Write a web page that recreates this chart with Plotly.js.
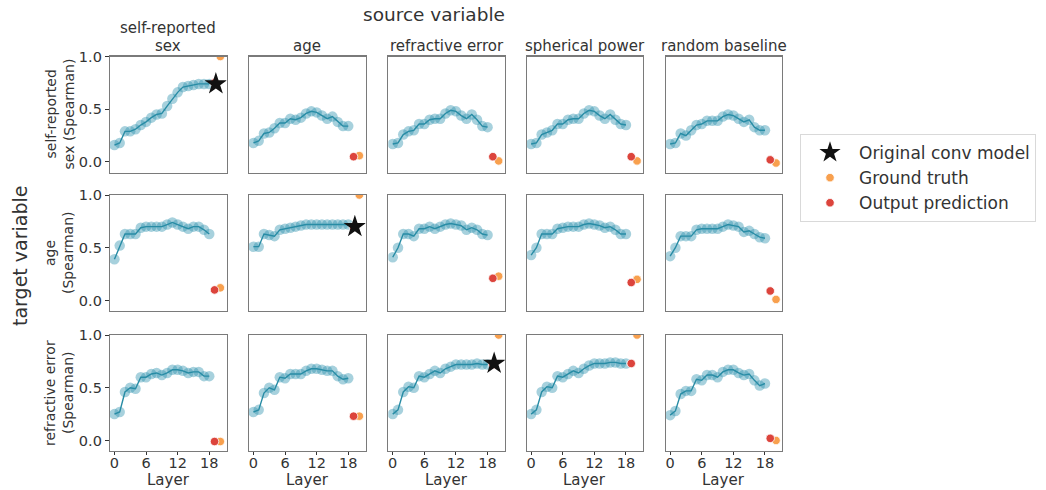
<!DOCTYPE html>
<html><head><meta charset="utf-8">
<script src="https://cdn.plot.ly/plotly-3.0.1.min.js"></script>
<style>html,body{margin:0;padding:0;background:#fff}#chart{width:1046px;height:490px}</style>
</head><body><div id="chart"></div>
<script>
// ---------------- data ----------------
const layers = [0,1,2,3,4,5,6,7,8,9,10,11,12,13,14,15,16,17,18];
const sourceLabels = ['self-reported<br>sex','age','refractive error','spherical power','random baseline'];
const targetLabels = ['self-reported<br>sex (Spearman)','age<br>(Spearman)','refractive error<br>(Spearman)'];
const xAxisLabel = 'Layer';
const xTickVals = [0,6,12,18];
const yTickVals = [0,0.5,1.0];
const yTickText = ['0.0','0.5','1.0'];

// target: self-reported sex
const sexFromSex  = [0.16,0.18,0.29,0.29,0.31,0.35,0.38,0.42,0.45,0.46,0.53,0.60,0.66,0.71,0.72,0.73,0.74,0.74,0.74];
const sexFromAge  = [0.18,0.20,0.27,0.28,0.32,0.37,0.37,0.41,0.40,0.42,0.46,0.48,0.47,0.44,0.41,0.43,0.38,0.34,0.34];
const sexFromRefr = [0.17,0.18,0.26,0.29,0.30,0.36,0.36,0.40,0.41,0.41,0.46,0.49,0.48,0.44,0.41,0.45,0.40,0.34,0.33];
const sexFromSph  = [0.17,0.18,0.26,0.28,0.30,0.36,0.36,0.40,0.41,0.41,0.46,0.49,0.48,0.44,0.41,0.45,0.40,0.36,0.35];
const sexFromRand = [0.17,0.18,0.27,0.25,0.30,0.35,0.36,0.39,0.39,0.39,0.43,0.45,0.44,0.41,0.38,0.40,0.33,0.30,0.30];
// target: age
const ageFromSex  = [0.39,0.52,0.63,0.63,0.63,0.69,0.70,0.70,0.70,0.70,0.72,0.74,0.72,0.70,0.68,0.70,0.70,0.67,0.63];
const ageFromAge  = [0.51,0.51,0.63,0.62,0.61,0.67,0.68,0.69,0.70,0.71,0.72,0.72,0.72,0.72,0.72,0.72,0.72,0.72,0.72];
const ageFromRefr = [0.41,0.50,0.63,0.63,0.61,0.68,0.68,0.70,0.68,0.70,0.72,0.73,0.72,0.71,0.67,0.69,0.67,0.63,0.62];
const ageFromSph  = [0.43,0.50,0.63,0.63,0.63,0.68,0.69,0.70,0.70,0.70,0.72,0.73,0.72,0.71,0.69,0.70,0.67,0.63,0.63];
const ageFromRand = [0.42,0.50,0.61,0.61,0.61,0.67,0.68,0.68,0.68,0.68,0.70,0.72,0.71,0.70,0.65,0.66,0.63,0.60,0.59];
// target: refractive error
const refFromSex  = [0.25,0.27,0.46,0.50,0.49,0.60,0.60,0.63,0.64,0.62,0.64,0.67,0.67,0.66,0.64,0.65,0.65,0.61,0.61];
const refFromAge  = [0.27,0.29,0.45,0.50,0.48,0.60,0.59,0.63,0.63,0.63,0.66,0.68,0.68,0.67,0.66,0.66,0.61,0.58,0.59];
const refFromRefr = [0.25,0.29,0.46,0.51,0.50,0.61,0.60,0.63,0.66,0.64,0.68,0.70,0.72,0.72,0.72,0.72,0.73,0.72,0.72];
const refFromSph  = [0.25,0.29,0.46,0.51,0.50,0.61,0.60,0.63,0.66,0.64,0.68,0.71,0.73,0.73,0.73,0.74,0.74,0.73,0.73];
const refFromRand = [0.24,0.28,0.44,0.47,0.47,0.58,0.57,0.62,0.62,0.60,0.65,0.67,0.67,0.64,0.62,0.63,0.57,0.52,0.54];

// output prediction / ground truth per source column
const predSex   = [0.75,0.05,0.05,0.05,0.02];
const truthSex  = [1.00,0.06,0.01,0.01,-0.01];
const predAge   = [0.10,0.70,0.21,0.17,0.09];
const truthAge  = [0.12,1.00,0.23,0.20,0.01];
const predRef   = [-0.01,0.23,0.72,0.73,0.02];
const truthRef  = [-0.01,0.23,1.00,1.00,0.00];
// original conv model (diagonal panels)
const starVals  = [0.74,0.70,0.73];
const predLayer  = 19;
const truthLayer = 20.1;
const starLayer  = 19.25;

const curves = [
  [sexFromSex, sexFromAge, sexFromRefr, sexFromSph, sexFromRand],
  [ageFromSex, ageFromAge, ageFromRefr, ageFromSph, ageFromRand],
  [refFromSex, refFromAge, refFromRefr, refFromSph, refFromRand]
];
const preds  = [predSex, predAge, predRef];
const truths = [truthSex, truthAge, truthRef];

// ---------------- layout geometry ----------------
const W = 1046, H = 490;
const colLeft = [110, 249, 388.3, 526.7, 665.7], panelW = 116.5;
const rowTop = [56.5, 195, 335], panelH = 116;
const FONT = 'DejaVu Sans, sans-serif';
const TXT = '#333333';
const FRAME = '#7a7a7a';

const traces = [];
const layout = {
  width: W, height: H,
  margin: {l:0, r:0, t:0, b:0},
  paper_bgcolor: '#fff', plot_bgcolor: '#fff',
  font: {family: FONT, color: TXT},
  showlegend: true,
  legend: {
    x: 800/W, y: 1 - 134/H, xanchor: 'left', yanchor: 'top',
    bgcolor: '#fff', bordercolor: '#d9d9d9', borderwidth: 1,
    font: {family: FONT, size: 17, color: TXT}, itemwidth: 48, tracegroupgap: 0
  },
  annotations: [], shapes: []
};

for (let r = 0; r < 3; r++) {
  for (let c = 0; c < 5; c++) {
    const idx = r*5 + c + 1;
    const xa = 'x' + idx, ya = 'y' + idx;
    const xk = 'xaxis' + idx, yk = 'yaxis' + idx;
    const bottom = (r === 2), left = (c === 0);
    layout[xk] = {
      domain: [colLeft[c]/W, (colLeft[c]+panelW)/W], anchor: ya,
      range: [-0.84, 21.27], showgrid: false, zeroline: false,
      showline: true, mirror: true, linecolor: FRAME, linewidth: 1.2,
      ticks: bottom ? 'outside' : '', ticklen: 3, tickwidth: 1, tickcolor: TXT,
      tickvals: xTickVals, showticklabels: bottom, ticklabelstandoff: -5,
      tickfont: {family: FONT, size: 14.5, color: TXT}
    };
    layout[yk] = {
      domain: [1 - (rowTop[r]+panelH)/H, 1 - rowTop[r]/H], anchor: xa,
      range: [-0.1, 1.0], showgrid: false, zeroline: false,
      showline: true, mirror: true, linecolor: FRAME, linewidth: 1.2,
      ticks: left ? 'outside' : '', ticklen: 4, tickwidth: 1, tickcolor: TXT,
      tickvals: yTickVals, ticktext: yTickText, showticklabels: left,
      tickfont: {family: FONT, size: 14.5, color: TXT}
    };
    // layer-wise probe markers
    traces.push({
      type: 'scatter', mode: 'markers', x: layers, y: curves[r][c], xaxis: xa, yaxis: ya,
      marker: {size: 10.5, color: 'rgba(45,145,175,0.42)', line: {width: 0}},
      showlegend: false, hoverinfo: 'skip'
    });
    traces.push({
      type: 'scatter', mode: 'lines', x: layers, y: curves[r][c], xaxis: xa, yaxis: ya,
      line: {color: 'rgb(40,140,165)', width: 1.4},
      showlegend: false, hoverinfo: 'skip'
    });
    // ground truth
    traces.push({
      type: 'scatter', mode: 'markers', x: [truthLayer], y: [truths[r][c]], xaxis: xa, yaxis: ya,
      marker: {size: 8.5, color: '#f8a04e', line: {width: 0.8, color: '#fff'}},
      name: 'Ground truth', legendrank: 2, showlegend: (r === 0 && c === 0)
    });
    // output prediction
    traces.push({
      type: 'scatter', mode: 'markers', x: [predLayer], y: [preds[r][c]], xaxis: xa, yaxis: ya,
      marker: {size: 8.5, color: '#dc443c', line: {width: 0.8, color: '#fff'}},
      name: 'Output prediction', legendrank: 3, showlegend: (r === 0 && c === 0)
    });
    if (r === c) {
      traces.push({
        type: 'scatter', mode: 'markers', x: [starLayer], y: [starVals[r]], xaxis: xa, yaxis: ya,
        marker: {size: 17, symbol: 'star', color: '#111', line: {width: 0}},
        name: 'Original conv model', legendrank: 1, showlegend: (r === 0)
      });
    }
  }
  // row label (two lines, 18px apart)
  const rowLines = targetLabels[r].split('<br>');
  rowLines.forEach((ln, k) => {
    layout.annotations.push({
      text: ln, xref: 'paper', yref: 'paper',
      x: (50 + 18*k)/W, y: 1 - (rowTop[r] + panelH/2)/H, xanchor: 'center', yanchor: 'middle',
      textangle: -90, showarrow: false, font: {family: FONT, size: 14, color: TXT}
    });
  });
}
// column titles (lines 18px apart, last line centred at y=46)
for (let c = 0; c < 5; c++) {
  const lines = sourceLabels[c].split('<br>');
  lines.forEach((ln, k) => {
    const cy = 46 - 18*(lines.length - 1 - k);
    layout.annotations.push({
      text: ln, xref: 'paper', yref: 'paper',
      x: (colLeft[c] + panelW/2)/W, y: 1 - cy/H, xanchor: 'center', yanchor: 'middle',
      showarrow: false, font: {family: FONT, size: 15, color: TXT}
    });
  });
  // x-axis label under bottom row
  layout.annotations.push({
    text: xAxisLabel, xref: 'paper', yref: 'paper',
    x: (colLeft[c] + panelW/2)/W, y: 0, xanchor: 'center', yanchor: 'bottom',
    showarrow: false, font: {family: FONT, size: 15, color: TXT}, borderpad: 0
  });
}
layout.annotations.push({
  text: 'source variable', xref: 'paper', yref: 'paper',
  x: 434/W, y: 1 - 14/H, xanchor: 'center', yanchor: 'middle',
  showarrow: false, font: {family: FONT, size: 18.5, color: TXT}
});
layout.annotations.push({
  text: 'target variable', xref: 'paper', yref: 'paper',
  x: 20/W, y: 1 - 256/H, xanchor: 'center', yanchor: 'middle', textangle: -90,
  showarrow: false, font: {family: FONT, size: 19, color: TXT}
});

Plotly.newPlot('chart', traces, layout, {displayModeBar: false, staticPlot: true});
</script>
</body></html>
